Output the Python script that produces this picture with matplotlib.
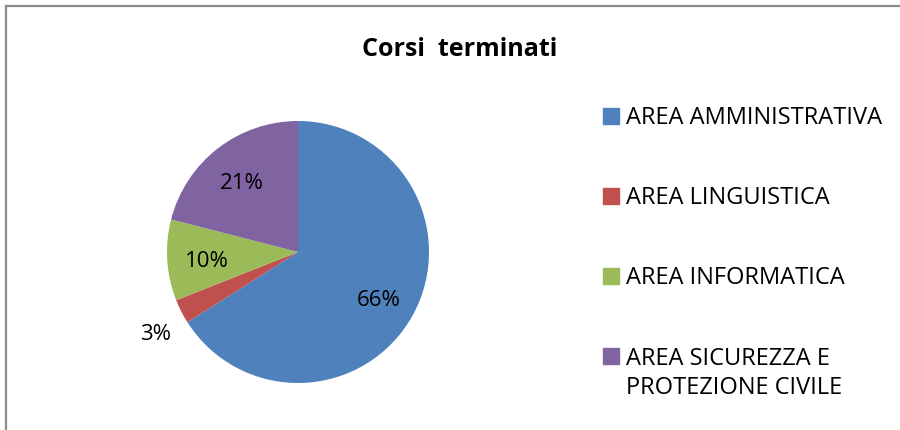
import matplotlib.pyplot as plt
import numpy as np
from matplotlib.patches import Rectangle
from matplotlib.lines import Line2D
from matplotlib.transforms import offset_copy

categories = ['AREA AMMINISTRATIVA', 'AREA LINGUISTICA', 'AREA INFORMATICA',
              'AREA SICUREZZA E\nPROTEZIONE CIVILE']
values = [66, 3, 10, 21]
colors = ['#4F81BD', '#C0504D', '#9BBB59', '#8064A2']

plt.rcParams['font.family'] = ['Open Sans', 'DejaVu Sans']

fig = plt.figure(figsize=(9, 4.3), dpi=100)

# frame (only left and top edges visible in the original)
fig.add_artist(Line2D([6 / 900, 6 / 900], [0, 1 - 6 / 430], color='#8c8c8c', lw=1.6))
fig.add_artist(Line2D([6 / 900, 1], [1 - 6 / 430, 1 - 6 / 430], color='#8c8c8c', lw=1.6))

fig.text(460 / 900, 1 - 49 / 430, 'Corsi  terminati', ha='center', va='center',
         fontsize=18, fontweight='bold')

ax = fig.add_axes([167 / 900, 47 / 430, 262 / 900, 262 / 430])
wedges, _ = ax.pie(values, colors=colors, startangle=90, counterclock=False,
                   radius=1, wedgeprops=dict(linewidth=0))
ax.set_xlim(-1, 1)
ax.set_ylim(-1, 1)
ax.set_aspect('equal')
ax.axis('off')

# percentage labels, small slices go outside
total = sum(values)
shifted = offset_copy(ax.transData, fig=fig, x=0, y=-4, units='dots')
for w, v in zip(wedges, values):
    ang = np.deg2rad((w.theta1 + w.theta2) / 2)
    r = 0.7 if v / total > 0.05 else 1.24
    if v / total <= 0.05:
        ang += np.deg2rad(2)
    ax.text(r * np.cos(ang), r * np.sin(ang), f'{v / total:.0%}', ha='center',
            va='center', fontsize=16, clip_on=False, transform=shifted)

# legend
rows_y = [116, 196, 276, 356]
for label, c, yy in zip(categories, colors, rows_y):
    fig.add_artist(Rectangle((603 / 900, 1 - (yy + 8) / 430), 16 / 900, 16 / 430,
                             transform=fig.transFigure, color=c))
    ty = yy + 17.5 if '\n' in label else yy + 2
    fig.text(626 / 900, 1 - ty / 430, label, ha='left', va='center',
             fontsize=17, linespacing=1.31)

fig.savefig('out.png', dpi=100)
